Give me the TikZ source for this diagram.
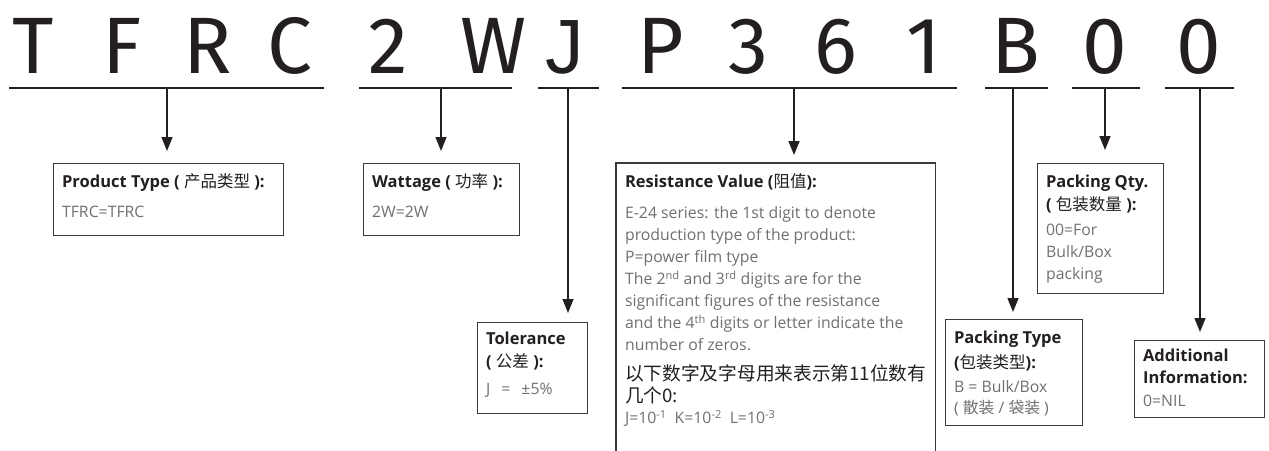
\documentclass[tikz,border=0pt]{standalone}
\usepackage{fontspec}
\setmainfont{Open Sans}
\newfontfamily\cjk{Noto Sans CJK SC}
\newfontfamily\bigfont{Fira Sans}
\newfontfamily\jfont{Liberation Sans}
\usetikzlibrary{arrows.meta}
\definecolor{ink}{HTML}{231F20}
\definecolor{txtgray}{HTML}{707070}
\definecolor{boxc}{HTML}{3A3A3A}
\newcommand\Ttl[1]{{\fontsize{16.5}{16}\selectfont\bfseries\color{ink}#1}}
\newcommand\Bdy[1]{{\fontsize{15.8}{16}\selectfont\color{txtgray}#1}}
\newcommand\Cj[1]{{\cjk\mdseries #1}}
\newcommand\Ln[2]{\vbox to 0pt{\kern#1\hbox{\smash{#2}}\vss}}
\newcommand\Bx[3]{\vbox to #2{\offinterlineskip\hbox to #1{\hfil}#3\vfil}}
\tikzset{
  big/.style={anchor=base, font=\bigfont\fontsize{80}{80}\selectfont, text=ink, inner sep=0pt},
  uline/.style={draw=ink, line width=1.6pt},
  arr/.style={draw=ink, line width=1.5pt, -{Triangle[width=11pt,length=14pt]}},
  infobox/.style={draw=boxc, line width=1.2pt, anchor=north west, inner xsep=8.5pt, inner ysep=0pt, fill=white},
}
\begin{document}
\begin{tikzpicture}[x=1pt,y=-1pt]
\useasboundingbox (0,0) rectangle (1269,450);
% code letters
\foreach \ch/\xx/\nm in {T/33/c1,F/122/c2,R/208/c3,C/290/c4,2/388/c5,W/494/c6,{\jfont\fontsize{77}{77}\selectfont J}/565/c7,P/661/c8,3/748/c9,6/836/c10,1/924/c11,B/1016/c12,0/1105/c13,0/1199/c14}
  \node[big] (\nm) at (\xx,73) {\ch};
% underlines and ticks
\coordinate (u1a) at (9,88);    \coordinate (u1b) at (324,88);  \coordinate (t1) at (167,88);
\coordinate (u2a) at (359,88);  \coordinate (u2b) at (512,88);  \coordinate (t2) at (441,88);
\coordinate (u3a) at (538,88);  \coordinate (u3b) at (599,88);  \coordinate (t3) at (568,88);
\coordinate (u4a) at (622,88);  \coordinate (u4b) at (957,88);  \coordinate (t4) at (794,88);
\coordinate (u5a) at (985,88);  \coordinate (u5b) at (1048,88); \coordinate (t5) at (1013,88);
\coordinate (u6a) at (1072,88); \coordinate (u6b) at (1140,88); \coordinate (t6) at (1105,88);
\coordinate (u7a) at (1165,88); \coordinate (u7b) at (1234,88); \coordinate (t7) at (1200,88);
\foreach \i in {1,...,7} \draw[uline] (u\i a) -- (u\i b);
% boxes
\node[infobox] (b1) at (53,163) {\Bx{213pt}{72pt}{%
  \Ln{24pt}{\Ttl{Product Type ( \Cj{产品类型} ):}}%
  \Ln{54pt}{\Bdy{TFRC=TFRC}}}};
\node[infobox] (b2) at (363,163) {\Bx{139pt}{72pt}{%
  \Ln{24pt}{\Ttl{Wattage ( \Cj{功率} ):}}%
  \Ln{54pt}{\Bdy{2W=2W}}}};
\node[infobox] (b3) at (477,322) {\Bx{93pt}{91pt}{%
  \Ln{22pt}{\Ttl{Tolerance}}%
  \Ln{45pt}{\Ttl{( \Cj{公差} ):}}%
  \Ln{72pt}{\Bdy{J\hspace{0.7em}=\hspace{0.7em}±5\%}}}};
\node[infobox, draw=none] (b4) at (616,163) {\Bx{295pt}{289pt}{%
  \Ln{24pt}{\Ttl{Resistance Value (\Cj{阻值}):}}%
  \Ln{55pt}{\Bdy{E-24 series: the 1st digit to denote}}%
  \Ln{77pt}{\Bdy{production type of the product:}}%
  \Ln{99pt}{\Bdy{P=power film type}}%
  \Ln{121pt}{\Bdy{The 2\textsuperscript{nd} and 3\textsuperscript{rd} digits are for the}}%
  \Ln{143pt}{\Bdy{significant figures of the resistance}}%
  \Ln{165pt}{\Bdy{and the 4\textsuperscript{th} digits or letter indicate the}}%
  \Ln{187pt}{\Bdy{number of zeros.}}%
  \Ln{217pt}{{\fontsize{18.7}{18}\cjk\color{ink}以下数字及字母用来表示第11位数有}}%
  \Ln{239pt}{{\fontsize{18.7}{18}\cjk\color{ink}几个0:}}%
  \Ln{260pt}{\Bdy{J=10\textsuperscript{-1}\hspace{0.5em}K=10\textsuperscript{-2}\hspace{0.5em}L=10\textsuperscript{-3}}}}};
\draw[draw=boxc, line width=1.2pt] (b4.south west) -- (b4.north west) -- (b4.north east) -- (b4.south east);
\node[infobox] (b5) at (945,319) {\Bx{120pt}{106pt}{%
  \Ln{24pt}{\Ttl{Packing Type}}%
  \Ln{49pt}{\Ttl{(\Cj{包装类型}):}}%
  \Ln{73pt}{\Bdy{B = Bulk/Box}}%
  \Ln{94pt}{\Bdy{( \Cj{散装} / \Cj{袋装} )}}}};
\node[infobox] (b6) at (1037,163) {\Bx{109pt}{130pt}{%
  \Ln{24pt}{\Ttl{Packing Qty.}}%
  \Ln{47pt}{\Ttl{( \Cj{包装数量} ):}}%
  \Ln{72pt}{\Bdy{00=For}}%
  \Ln{94pt}{\Bdy{Bulk/Box}}%
  \Ln{116pt}{\Bdy{packing}}}};
\node[infobox] (b7) at (1134,340) {\Bx{113pt}{77pt}{%
  \Ln{21pt}{\Ttl{Additional}}%
  \Ln{43pt}{\Ttl{Information:}}%
  \Ln{66pt}{\Bdy{0=NIL}}}};
% arrows
\draw[arr, shorten >=12pt] (t1) -- (t1 |- b1.north);
\draw[arr, shorten >=12pt] (t2) -- (t2 |- b2.north);
\draw[arr, shorten >=9pt]  (t3) -- (t3 |- b3.north);
\draw[arr, shorten >=8pt]  (t4) -- (t4 |- b4.north);
\draw[arr, shorten >=7pt]  (t5) -- (t5 |- b5.north);
\draw[arr, shorten >=13pt] (t6) -- (t6 |- b6.north);
\draw[arr, shorten >=8pt]  (t7) -- (t7 |- b7.north);
\end{tikzpicture}
\end{document}
